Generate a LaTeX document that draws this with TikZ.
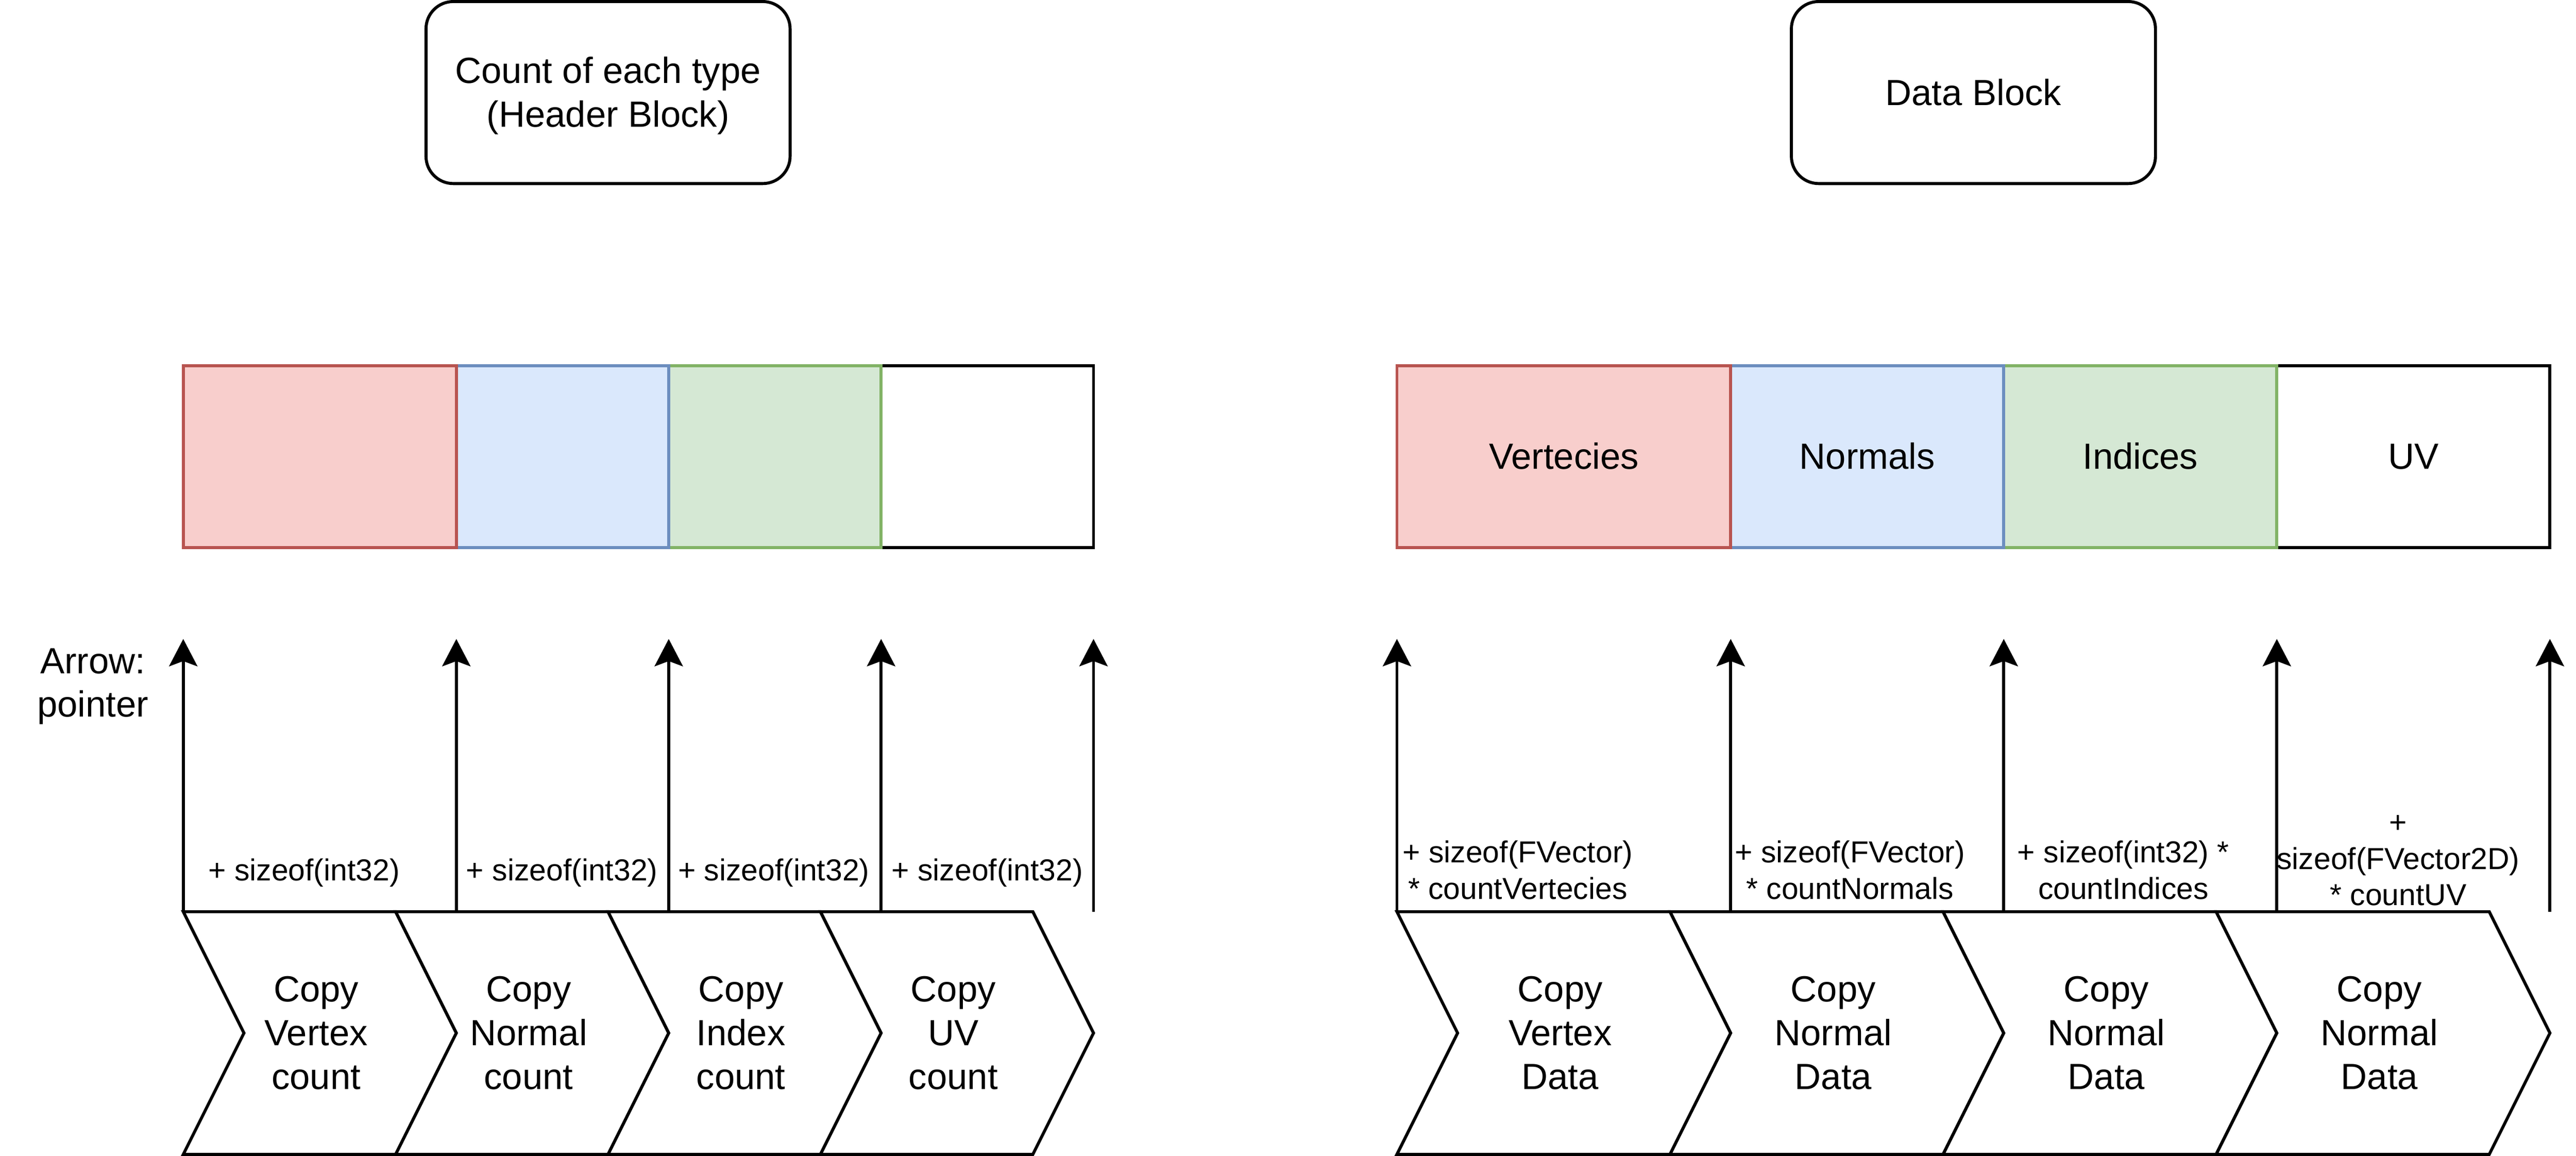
\documentclass[tikz,border=0pt]{standalone}
\usepackage{fontspec}
\setmainfont{Liberation Sans}
\usetikzlibrary{arrows.meta}
\definecolor{redfill}{HTML}{F8CECC}
\definecolor{redline}{HTML}{B85450}
\definecolor{bluefill}{HTML}{DAE8FC}
\definecolor{blueline}{HTML}{6C8EBF}
\definecolor{greenfill}{HTML}{D5E8D4}
\definecolor{greenline}{HTML}{82B366}
\newcommand{\dstrut}{\rule[-0.25em]{0pt}{1.19em}}
\begin{document}
\begin{tikzpicture}[x=1pt,y=-1pt,line width=1pt,
	>={Stealth[length=9pt,width=9.3pt,inset=1.7pt]},
	txt/.style={inner sep=0pt,outer sep=0pt,align=center,font=\fontsize{12}{14.4}\selectfont},
	lbl/.style={txt,font=\fontsize{10}{12}\selectfont},
	blk/.style={txt,draw,rounded corners=9pt,minimum width=120pt,minimum height=60pt},
	cell/.style={txt,draw,minimum height=60pt},
	chev/.style={draw,fill=white}]
	\useasboundingbox (0,0) rectangle (849,381);
	% blocks on top
	\node[blk] (hdr) at (200.4,30.5) {\dstrut Count of each type\\(Header Block)\dstrut};
	\node[blk] (dat) at (650.4,30.5) {\dstrut Data Block};
	% the two buffers, right cell first
	\foreach \c/\w/\n/\f/\d/\t in {325.4/70/lu/white/black/{},255.4/70/li/greenfill/greenline/{},
			185.4/70/ln/bluefill/blueline/{},105.4/90/lv/redfill/redline/{},
			795.4/90/ru/white/black/UV,705.4/90/ri/greenfill/greenline/Indices,
			615.4/90/rn/bluefill/blueline/Normals,515.4/110/rv/redfill/redline/Vertecies}
		\node[cell,minimum width=\w pt,fill=\f,draw=\d] (\n) at (\c,150.5) {\dstrut\t};
	% pointer steps
	\foreach \x [count=\i] in {60.4,150.4,220.4,290.4,360.4,460.4,570.4,660.4,750.4,840.4}{
		\coordinate (s\i) at (\x,300.5);
		\coordinate (e\i) at (\x,210.6);
		\draw[->] (s\i) -- (e\i);
	}
	\node[txt] (key) at (30.6,225) {\dstrut Arrow:\\pointer\dstrut};
	% copy steps
	\foreach \x/\w/\n/\t in {60.4/90/cvc/{Copy\\Vertex\\count},130.4/90/cnc/{Copy\\Normal\\count},
			200.4/90/cic/{Copy\\Index\\count},270.4/90/cuc/{Copy\\UV\\count},
			460.4/110/cvd/{Copy\\Vertex\\Data},550.4/110/cnd/{Copy\\Normal\\Data},
			640.4/110/cid/{Copy\\Normal\\Data},730.4/110/cud/{Copy\\Normal\\Data}}{
		\draw[chev] (\x,300.5) -- ++(\w-20,0) -- ++(20,40) -- ++(-20,40) -- ++(-\w+20,0) -- ++(20,-40) -- cycle;
		\node[txt] (\n) at (\x+\w/2-1.2,340.5) {\dstrut\t\dstrut};
	}
	% offsets
	\foreach \x/\n in {100.2/o1,185.2/o2,255/o3,325.4/o4}
		\node[lbl] (\n) at (\x,286.85) {\dstrut + sizeof(int32)};
	\node[lbl] (o5) at (500.2,286.9) {\dstrut + sizeof(FVector)\\* countVertecies\dstrut};
	\node[lbl] (o6) at (609.7,286.9) {\dstrut + sizeof(FVector)\\* countNormals\dstrut};
	\node[lbl] (o7) at (699.8,286.9) {\dstrut + sizeof(int32) *\\countIndices\dstrut};
	\node[lbl] (o8) at (790.4,283) {\dstrut +\\sizeof(FVector2D)\\* countUV\dstrut};
\end{tikzpicture}
\end{document}
